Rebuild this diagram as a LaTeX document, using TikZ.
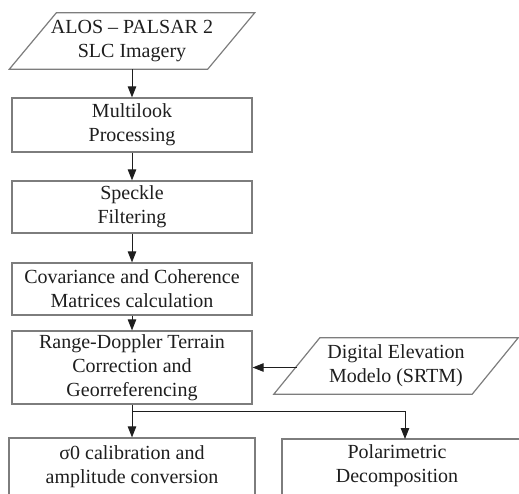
\documentclass[tikz,border=0pt]{standalone}
\usepackage{fontspec}
\setmainfont{Liberation Serif}
\usetikzlibrary{arrows.meta}
\definecolor{edge}{RGB}{125,125,125}
\definecolor{ink}{RGB}{30,30,30}
\begin{document}
\begin{tikzpicture}[x=1pt,y=-1pt,
  every node/.style={font=\fontsize{20}{24}\selectfont, text=ink, align=center, inner sep=0pt},
  procbox/.style={draw=edge, line width=1.2pt, fill=white, minimum width=240pt},
  iobody/.style={minimum width=198pt, minimum height=56pt},
  iobox/.style={draw=edge, line width=1.2pt, line join=miter},
  flow/.style={draw=ink, line width=0.9pt},
  arr/.style={flow, -{Triangle[length=11pt,width=8.5pt]}}]
\useasboundingbox (0,0) rectangle (519,493);
\clip (0,0) rectangle (519,493);

% input data (parallelograms): body node plus slanted outline
\node[iobody] (alos) at (132,41) {ALOS -- PALSAR 2\\SLC Imagery};
\node[iobody] (dem) at (396,366) {Digital Elevation\\Modelo (SRTM)};
\foreach \n/\s in {alos/23.5, dem/23}{
  \draw[iobox] ([xshift=-\s pt]\n.south west) -- ([xshift=-\s pt]\n.south east)
    -- ([xshift=\s pt]\n.north east) -- ([xshift=\s pt]\n.north west) -- cycle;
}

% processing chain
\node[procbox, minimum height=54pt] (ml)  at (132,125)   {Multilook\\Processing};
\node[procbox, minimum height=52pt] (sp)  at (132,207)   {Speckle\\Filtering};
\node[procbox, minimum height=52pt] (cov) at (132,289)   {Covariance and Coherence\\Matrices calculation};
\node[procbox, minimum height=73pt] (rd)  at (132,367.5) {Range-Doppler Terrain\\Correction and\\Georreferencing};

% outputs
\node[procbox, minimum width=246pt, minimum height=58pt] (sig) at (132,467)
  {σ0 calibration and\\amplitude conversion};
\node[procbox, minimum width=258pt, minimum height=58pt] (polbox) at (411,468) {};
\node (poltxt) at (397,466) {Polarimetric\\Decomposition};

% connectors
\coordinate (split) at (132,411);
\coordinate (pin) at (405,439);
\draw[arr] (alos.south) -- (ml.north);
\draw[arr] (ml.south) -- (sp.north);
\draw[arr] (sp.south) -- (cov.north);
\draw[arr] (cov.south) -- (rd.north);
\draw[arr] (dem.west |- rd.east) -- (rd.east);
\draw[flow] (rd.south) -- (split);
\draw[arr] (split) -- (sig.north);
\draw[arr] (split) -| (pin);
\end{tikzpicture}
\end{document}
